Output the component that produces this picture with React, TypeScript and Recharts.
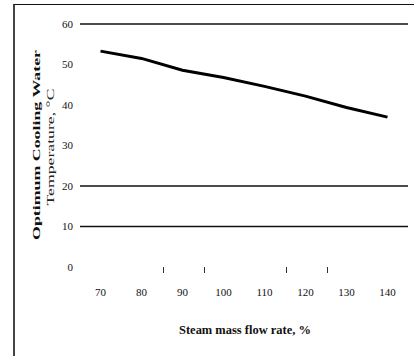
import React from 'react';
import { LineChart, Line, XAxis, YAxis, ReferenceLine, Label } from 'recharts';

const flowRates = ['70', '80', '90', '100', '110', '120', '130', '140'];
const optimumTemp = [53.3, 51.5, 48.6, 46.8, 44.6, 42.2, 39.4, 37.0];
const yTicks = [0, 10, 20, 30, 40, 50, 60];
const gridValues = [60, 20, 10];
const markedBoundaries = ['90', '100', '120', '130'];

const data = flowRates.map((rate, i) => ({ rate, temp: optimumTemp[i] }));

const FONT = '"Liberation Serif", "DejaVu Serif", serif';
const HALF_STEP = 20.5;

const XTick = (props: any) => {
    const { x, y, payload } = props;
    return (
        <g>
            {markedBoundaries.includes(payload.value) && (
                <line x1={x - HALF_STEP + 1.5} x2={x - HALF_STEP + 1.5} y1={y} y2={y + 6} stroke="#333" strokeWidth={1} />
            )}
            <text x={x} y={y + 29} textAnchor="middle" fontFamily={FONT} fontSize={11} fill="#111">
                {payload.value}
            </text>
        </g>
    );
};

export default function App() {
    return (
        <div style={{ position: 'absolute', left: 0, top: 0, width: 414, height: 356, background: '#fff' }}>
            <div
                style={{
                    position: 'absolute',
                    left: 13,
                    top: 4,
                    right: 0,
                    bottom: 0,
                    borderLeft: '2px solid #444',
                    borderTop: '1.5px solid #111',
                }}
            />
            <LineChart width={414} height={356} data={data} margin={{ top: 24, right: 6, left: 0, bottom: 19 }}>
                {gridValues.map((v) => (
                    <ReferenceLine key={v} y={v} stroke="#111" strokeWidth={1.5} />
                ))}
                <XAxis
                    dataKey="rate"
                    height={70}
                    padding={{ left: HALF_STEP, right: HALF_STEP }}
                    axisLine={false}
                    tickLine={false}
                    tickSize={0}
                    tickMargin={0}
                    interval={0}
                    tick={<XTick />}
                >
                    <Label
                        content={() => (
                            <text x={245} y={334} textAnchor="middle" fontFamily={FONT} fontWeight="bold" fontSize={12} fill="#111" textLength={132} lengthAdjust="spacingAndGlyphs">
                                Steam mass flow rate, %
                            </text>
                        )}
                    />
                </XAxis>
                <YAxis
                    width={80}
                    domain={[0, 60]}
                    ticks={yTicks}
                    axisLine={false}
                    tickLine={false}
                    tickSize={0}
                    tickMargin={7}
                    tick={{ fontFamily: FONT, fontSize: 11, fill: '#111' }}
                >
                    <Label
                        content={() => (
                            <g>
                                <text x={36} y={145} transform="rotate(-90 36 145)" textAnchor="middle" dominantBaseline="central" fontFamily={FONT} fontWeight="bold" fontSize={11} fill="#111" textLength={190} lengthAdjust="spacingAndGlyphs">
                                    Optimum Cooling Water
                                </text>
                                <text x={50} y={147} transform="rotate(-90 50 147)" textAnchor="middle" dominantBaseline="central" fontFamily={FONT} fontSize={10} fill="#222" textLength={117} lengthAdjust="spacingAndGlyphs">
                                    Temperature, °C
                                </text>
                            </g>
                        )}
                    />
                </YAxis>
                <Line type="linear" dataKey="temp" stroke="#000" strokeWidth={3} dot={false} isAnimationActive={false} />
            </LineChart>
        </div>
    );
}
